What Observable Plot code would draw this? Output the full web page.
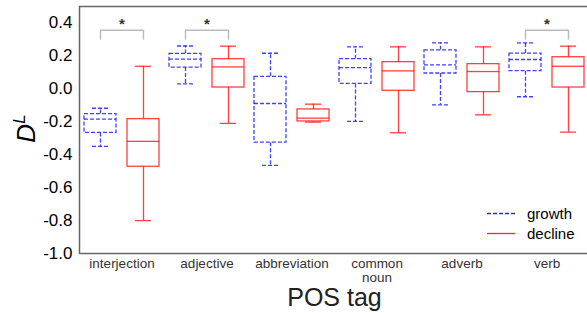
<!DOCTYPE html>
<html>
<head>
<meta charset="utf-8">
<script src="https://cdn.jsdelivr.net/npm/d3@7"></script>
<script src="https://cdn.jsdelivr.net/npm/@observablehq/plot@0.6"></script>
<style>
  html, body { margin: 0; padding: 0; background: white; overflow: hidden; }
  #chart { position: relative; width: 589px; height: 313px; }
</style>
</head>
<body>
<div id="chart"></div>
<script>
const categories = ["interjection", "adjective", "abbreviation", "common noun", "adverb", "verb"];
const yTicks = [0.4, 0.2, 0.0, -0.2, -0.4, -0.6, -0.8, -1.0];

// growth series (whisker low, Q1, median, Q3, whisker high)
const growthLow  = [-0.350, 0.030, -0.465, -0.198, -0.097, -0.048];
const growthQ1   = [-0.268, 0.129, -0.327,  0.030,  0.093,  0.107];
const growthMed  = [-0.184, 0.180, -0.089,  0.129,  0.145,  0.178];
const growthQ3   = [-0.153, 0.212,  0.073,  0.180,  0.234,  0.214];
const growthHigh = [-0.118, 0.260,  0.216,  0.255,  0.279,  0.279];

// decline series
const declineLow  = [-0.800, -0.210, -0.202, -0.267, -0.158, -0.263];
const declineQ1   = [-0.473,  0.008, -0.198, -0.012, -0.020,  0.008];
const declineMed  = [-0.319,  0.133, -0.178,  0.109,  0.105,  0.137];
const declineQ3   = [-0.184,  0.180, -0.125,  0.162,  0.150,  0.192];
const declineHigh = [ 0.137,  0.259, -0.093,  0.255,  0.255,  0.259];

// significance markers
const significant = ["interjection", "adjective", "verb"];
const bracketLow = 0.295, bracketHigh = 0.356, starY = 0.39;

const table = (low, q1, med, q3, high) =>
  categories.map((cat, i) => ({cat, low: low[i], q1: q1[i], med: med[i], q3: q3[i], high: high[i]}));
const growth = table(growthLow, growthQ1, growthMed, growthQ3, growthHigh);
const decline = table(declineLow, declineQ1, declineMed, declineQ3, declineHigh);
const sig = significant.map(cat => ({cat}));

const W = 589, H = 313, ML = 79, MR = 0, MT = 6, MB = 60;
const bw = (W - ML - MR) / categories.length; // band width
const off = 21.5, half = 16, cap = 8;

function boxMarks(rows, side, color, dash) {
  const c = bw / 2 + side * off;
  const boxIn = {insetLeft: c - half, insetRight: bw - c - half};
  const capIn = {insetLeft: c - cap, insetRight: bw - c - cap};
  const st = {stroke: color, strokeOpacity: 0.75, strokeWidth: 1.3, strokeDasharray: dash};
  return [
    Plot.ruleX(rows, {x: "cat", y1: "q3", y2: "high", dx: side * off, ...st}),
    Plot.ruleX(rows, {x: "cat", y1: "q1", y2: "low", dx: side * off, ...st}),
    Plot.tickY(rows, {x: "cat", y: "high", ...capIn, ...st}),
    Plot.tickY(rows, {x: "cat", y: "low", ...capIn, ...st}),
    Plot.barY(rows, {x: "cat", y1: "q1", y2: "q3", fill: "white", ...boxIn, ...st}),
    Plot.tickY(rows, {x: "cat", y: "med", ...boxIn, ...st})
  ];
}

const chart = Plot.plot({
  width: W, height: H,
  marginLeft: ML, marginRight: MR, marginTop: MT, marginBottom: MB,
  style: {fontFamily: "Liberation Sans, Arial, sans-serif", background: "white", overflow: "visible"},
  x: {type: "band", domain: categories, padding: 0},
  y: {domain: [-1.0, 0.5]},
  marks: [
    Plot.axisY({ticks: yTicks, tickFormat: d => d.toFixed(1), tickSize: 0, tickPadding: 7, fontSize: 17, fill: "black", label: null}),
    Plot.axisX({tickSize: 0, tickPadding: 4, fontSize: 13.5, lineHeight: 1.05, fill: "#333", label: null,
                tickFormat: d => d === "common noun" ? "common\nnoun" : d}),
    // significance brackets
    Plot.tickY(sig, {x: "cat", y: bracketHigh, insetLeft: bw / 2 - off, insetRight: bw / 2 - off, stroke: "#bbb", strokeWidth: 1.4}),
    Plot.ruleX(sig, {x: "cat", y1: bracketLow, y2: bracketHigh, dx: -off, stroke: "#bbb", strokeWidth: 1.4}),
    Plot.ruleX(sig, {x: "cat", y1: bracketLow, y2: bracketHigh, dx: off, stroke: "#bbb", strokeWidth: 1.4}),
    Plot.text(sig, {x: "cat", y: starY, text: () => "*", fontSize: 15, fontWeight: "bold", fill: "#333"}),
    ...boxMarks(growth, -1, "blue", "4,2"),
    ...boxMarks(decline, 1, "red", null),
    Plot.frame({stroke: "#666", strokeWidth: 1.5}),
    Plot.text(["POS tag"], {frameAnchor: "bottom", dy: 52, fontSize: 25, fill: "#222", text: d => d})
  ]
});

const svg = d3.select(chart);
// y-axis label D^L
const yl = svg.append("text")
  .attr("transform", "translate(35,128.5) rotate(-90)")
  .attr("text-anchor", "middle")
  .attr("font-size", 26)
  .attr("font-style", "italic")
  .attr("fill", "black");
yl.append("tspan").text("D");
yl.append("tspan").attr("dy", -10).attr("font-size", 17).text("L");

// legend
const legend = [
  {label: "growth", color: "blue", dash: "4,2", y: 213.5},
  {label: "decline", color: "red", dash: null, y: 233.5}
];
const lg = svg.append("g");
legend.forEach(d => {
  lg.append("line").attr("x1", 487).attr("x2", 515).attr("y1", d.y).attr("y2", d.y)
    .attr("stroke", d.color).attr("stroke-opacity", 0.85).attr("stroke-width", 1.3)
    .attr("stroke-dasharray", d.dash);
  lg.append("text").attr("x", 527).attr("y", d.y).attr("dy", "0.35em")
    .attr("text-anchor", "start")
    .attr("font-size", 15).attr("fill", "black").text(d.label);
});

document.getElementById("chart").appendChild(chart);
</script>
</body>
</html>
